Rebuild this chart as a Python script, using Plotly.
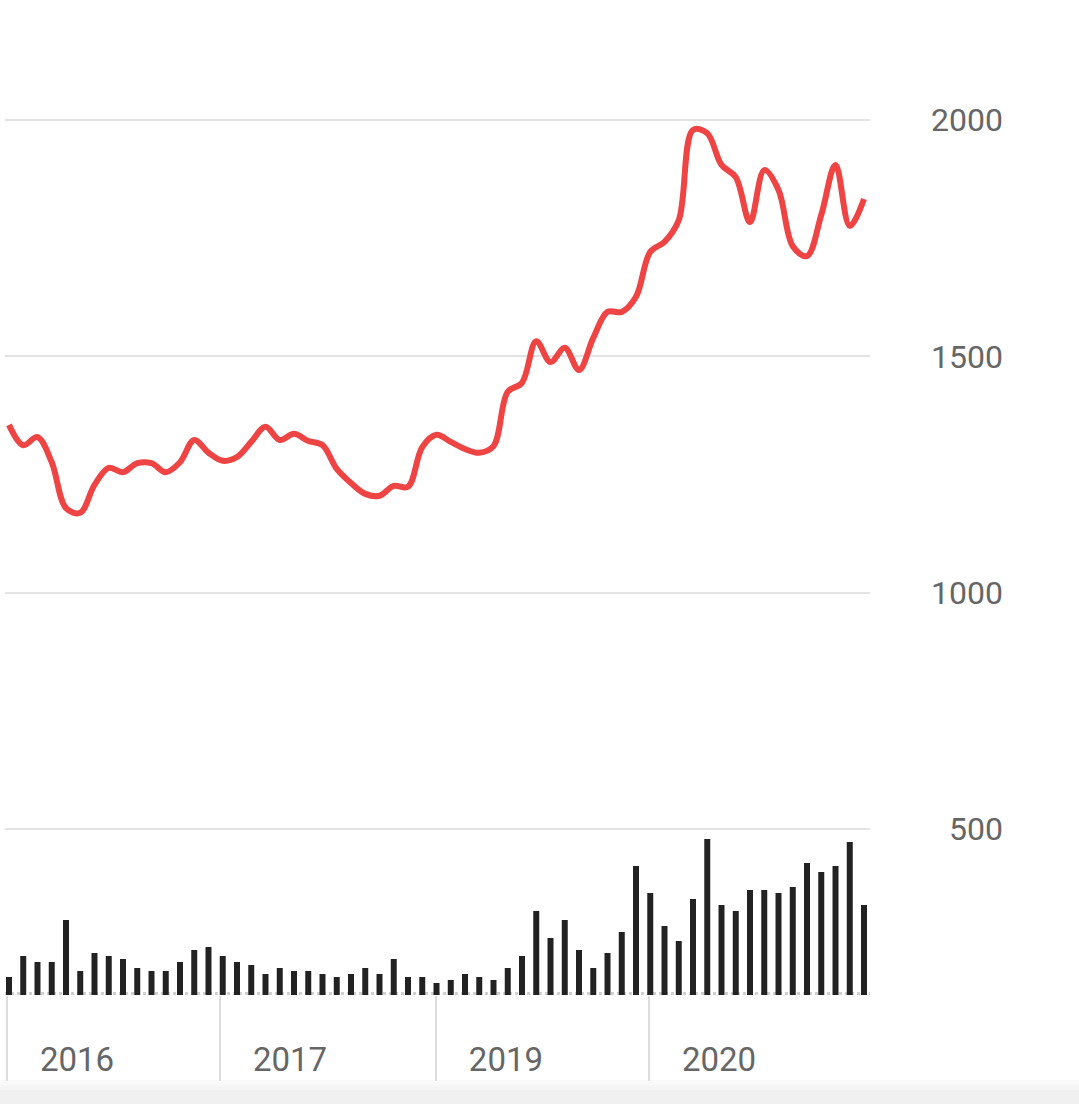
import plotly.graph_objects as go

# ---- data ----
idx = list(range(61))
price = [1355, 1312, 1329, 1276, 1179, 1169, 1228, 1264, 1255, 1274,
         1274, 1255, 1276, 1323, 1296, 1279, 1287, 1319, 1351, 1323,
         1336, 1321, 1312, 1262, 1232, 1209, 1205, 1226, 1224, 1308,
         1334, 1319, 1304, 1296, 1310, 1425, 1444, 1532, 1488, 1518,
         1471, 1539, 1594, 1594, 1626, 1721, 1742, 1788, 1979, 1972,
         1905, 1879, 1784, 1894, 1852, 1733, 1712, 1799, 1905, 1776,
         1833]
volume = [18, 39, 33, 33, 75, 24, 42, 39, 36, 27,
          24, 24, 33, 45, 48, 39, 33, 30, 21, 27,
          24, 24, 21, 18, 21, 27, 21, 36, 18, 18,
          12, 15, 21, 18, 15, 27, 39, 84, 57, 75,
          45, 27, 42, 63, 129, 102, 69, 54, 96, 156,
          90, 84, 105, 105, 102, 108, 132, 123, 129, 153,
          90]
year_pos = [-0.14, 14.81, 29.96, 44.91]
year_labels = ["2016", "2017", "2019", "2020"]
y_ticks = [500, 1000, 1500, 2000]
y_ticktext = ["\u2007500", "1000", "1500", "2000"]

RED = "#ee4444"
GREY_TXT = "#666666"

fig = go.Figure()
fig.add_trace(go.Bar(x=idx, y=volume, yaxis="y2", marker_color="#222222",
                     marker_line_width=0, width=0.42, hoverinfo="skip"))
fig.add_trace(go.Scatter(x=idx, y=price, mode="lines",
                         line=dict(color=RED, width=6, shape="spline", smoothing=1)))

fig.update_layout(
    width=1079, height=1104,
    margin=dict(l=5, r=209, t=40, b=109),
    plot_bgcolor="white", paper_bgcolor="white",
    showlegend=False,
    font=dict(family="Roboto, sans-serif", color=GREY_TXT),
    xaxis=dict(range=[-0.28, 60.42], showgrid=False, zeroline=False, showline=False,
               tickmode="array", tickvals=year_pos, ticktext=year_labels,
               ticks="outside", ticklen=85, tickwidth=2, tickcolor="#dcdcdc",
               ticklabelshift=70, ticklabelstandoff=-50,
               tickfont=dict(size=33, color=GREY_TXT)),
    yaxis=dict(side="right", range=[148.9, 2169.2], tickmode="array",
               tickvals=y_ticks, ticktext=y_ticktext,
               showgrid=True, gridcolor="#e3e3e3", gridwidth=2,
               zeroline=False, showline=False, ticks="",
               ticklabelstandoff=60, tickfont=dict(size=32, color=GREY_TXT)),
    yaxis2=dict(overlaying="y", range=[0, 955], visible=False),
)

# dotted baseline under the bars
fig.add_shape(type="line", xref="paper", x0=0, x1=1, yref="y2", y0=1.5, y1=1.5,
              line=dict(color="#d0d0d0", width=3, dash="3px,3px"), layer="below")

# bottom shadow band
x0p = -5 / 865
x1p = 1 + 209 / 865
bands = [(1080, 1085, 0.3), (1085, 1090, 0.55), (1090, 1104, 0.8)]
for top, bot, a in bands:
    fig.add_shape(type="rect", xref="paper", yref="paper",
                  x0=x0p, x1=x1p, y0=-(bot - 995) / 955, y1=-(top - 995) / 955,
                  fillcolor=f"rgba(236,236,236,{a})", line_width=0, layer="above")

fig.write_html("out.html")
